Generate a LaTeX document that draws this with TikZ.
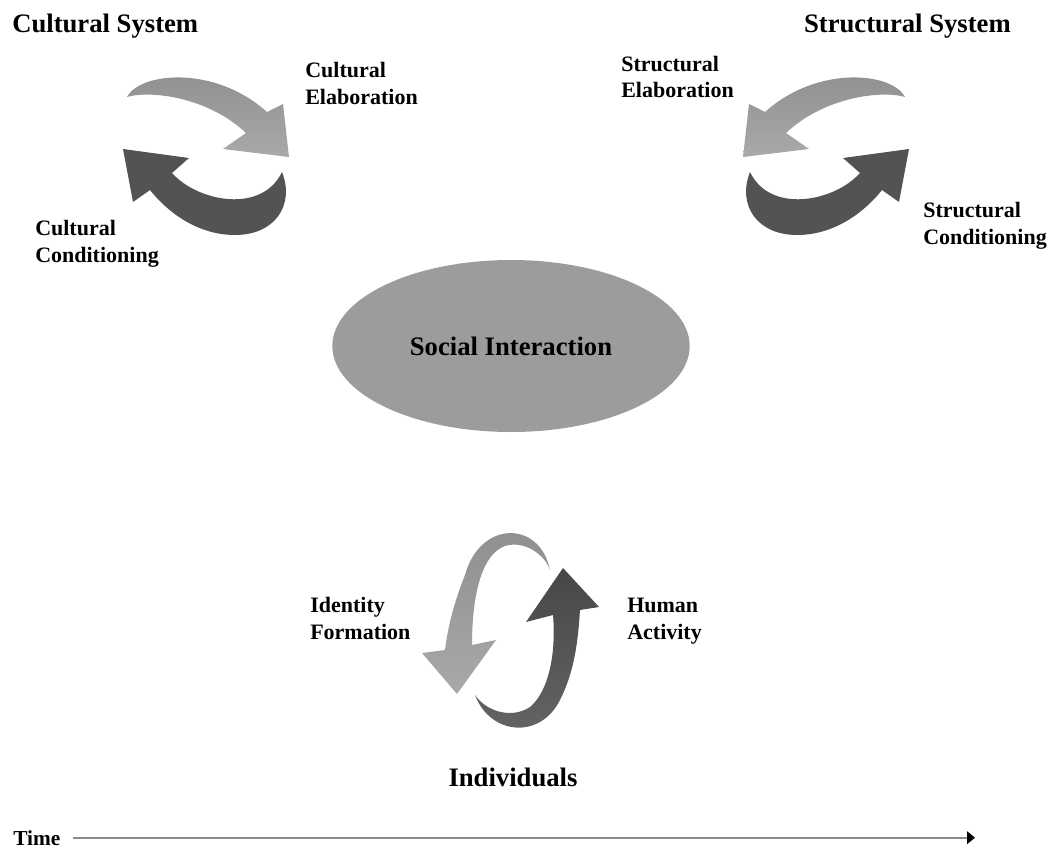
\documentclass[tikz,border=0pt]{standalone}
\usepackage{fontspec}
\setmainfont{Liberation Serif}
\usetikzlibrary{arrows.meta, shapes.geometric}

\definecolor{arclighttop}{HTML}{8E8E8E}
\definecolor{arclightbot}{HTML}{A9A9A9}
\definecolor{arcdark}{HTML}{535353}
\definecolor{arcdarktop}{HTML}{474747}
\definecolor{arcdarkbot}{HTML}{656565}
\definecolor{ellgray}{HTML}{9C9C9C}
\definecolor{linegray}{HTML}{8A8A8A}

\begin{document}
\begin{tikzpicture}[
  x=0.75pt, y=-0.75pt,
  title/.style={font=\fontsize{20}{24}\selectfont\bfseries, inner sep=0pt},
  label/.style={font=\fontsize{16.5}{20.25}\selectfont\bfseries, align=left, inner sep=0pt},
  lightarc/.style={top color=arclighttop, bottom color=arclightbot, draw=none},
  darkarc/.style={fill=arcdark, draw=none},
  risearc/.style={top color=arcdarktop, bottom color=arcdarkbot, draw=none},
  timeline/.style={draw=linegray, line width=1.2pt, -{Triangle[length=6pt, width=9.5pt, color=black]}},
  arcpair/.pic={
    % upper (elaboration) arc
    \path[lightarc] (127,97) .. controls (140,72) and (215,65) .. (267,112)
      -- (283,104) -- (289,157) -- (223,149) -- (246,133)
      .. controls (208,97) and (150,90) .. cycle;
    % lower (conditioning) arc
    \path[darkarc] (282,172) .. controls (295,205) and (275,235) .. (235,235)
      .. controls (200,235) and (170,215) .. (150,190)
      -- (133,202) -- (123,149) -- (189,158) -- (172,173)
      .. controls (198,202) and (262,214) .. cycle;
  }
]
\useasboundingbox (0,0) rectangle (1056,849);

% System headings
\node[title, anchor=base west] (cs) at (12,33) {Cultural System};
\node[title, anchor=base east] (ss) at (1011,33) {Structural System};

% Morphogenetic cycles
\pic at (0,0) {arcpair};
\pic[xscale=-1] at (1032,0) {arcpair};

% Cycle labels (base = last line)
\node[label, anchor=base west] (ce) at (305,104) {Cultural\\Elaboration};
\node[label, anchor=base west] (cc) at (35,262) {Cultural\\Conditioning};
\node[label, anchor=base west] (se) at (621,98) {Structural\\Elaboration};
\node[label, anchor=base west] (sc) at (923,244) {Structural\\Conditioning};

% Social interaction
\node[ellipse, fill=ellgray, minimum width=268pt, minimum height=129pt,
  font=\fontsize{20}{24}\selectfont\bfseries] (si) at (511,346) {Social Interaction};

% Individuals cycle
\path[lightarc] (550,570) .. controls (540,520) and (480,520) .. (465,575)
  .. controls (455,600) and (448,625) .. (445,650)
  -- (422,653) -- (457,694) -- (496,640) -- (472,645)
  .. controls (472,600) and (480,555) .. (505,546)
  .. controls (525,540) and (545,555) .. cycle;
\path[risearc] (475,695) .. controls (490,735) and (540,740) .. (560,700)
  .. controls (575,670) and (578,640) .. (580,610)
  -- (599,607) -- (563,568) -- (526,622) -- (553,615)
  .. controls (556,650) and (550,690) .. (530,707)
  .. controls (510,720) and (485,710) .. cycle;

\node[label, anchor=base west] (if) at (310,639) {Identity\\Formation};
\node[label, anchor=base west] (ha) at (627,639) {Human\\Activity};
\node[title, anchor=base] (ind) at (513,786) {Individuals};

% Time axis
\node[font=\fontsize{16}{19}\selectfont\bfseries, inner sep=0pt, anchor=base west] (time) at (13,845) {Time};
\coordinate (tend) at (975,838);
\draw[timeline] ([xshift=9pt]time.east) -- (time.east -| tend);

\end{tikzpicture}
\end{document}
